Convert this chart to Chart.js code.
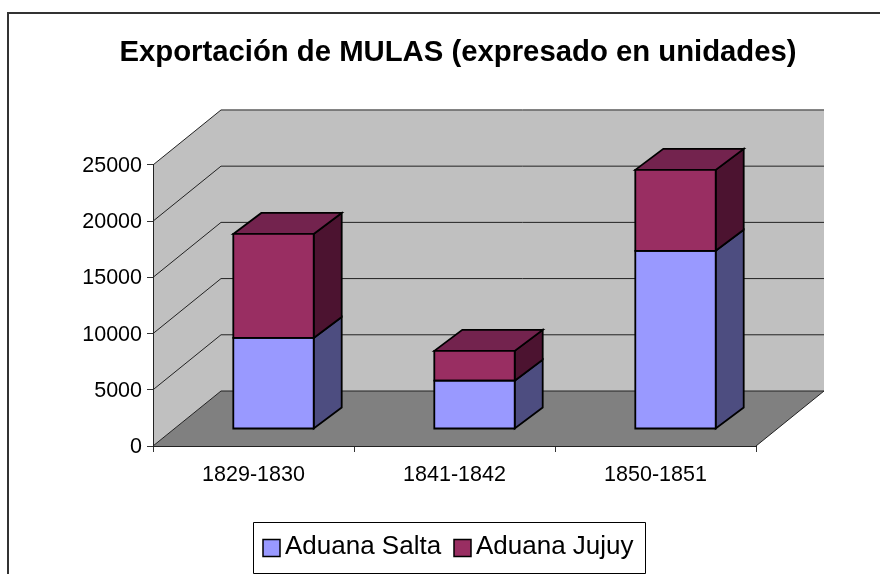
<!DOCTYPE html>
<html><head><meta charset="utf-8">
<style>html,body{margin:0;padding:0;background:#fff;overflow:hidden}canvas{display:block}</style>
<script src="https://cdn.jsdelivr.net/npm/chart.js@4"></script>
</head><body>
<div style="width:880px;height:574px"><canvas id="c" width="880" height="574"></canvas></div>
<script>
const categories = ['1829-1830', '1841-1842', '1850-1851'];
const seriesNames = ['Aduana Salta', 'Aduana Jujuy'];
const salta = [8100, 4300, 15850];
const jujuy = [9250, 2650, 7200];
const frontColors = ['#9999ff', '#992e62'];
const sideColors = ['#4d4d80', '#4c1330'];
const topColors = ['#7373bf', '#73234e'];
const yTicks = [0, 5000, 10000, 15000, 20000, 25000];
const FONT = '"Liberation Sans", Arial, sans-serif';
const WALL = {dx: 68, dy: -55};
const BAR_SHIFT = {dx: 20, dy: -17};
const BAR_DEPTH = {dx: 28, dy: -21};
const EDGE = 1.8;

function poly(ctx, pts, fill, stroke, lw) {
  ctx.beginPath();
  pts.forEach((p, i) => i ? ctx.lineTo(p[0], p[1]) : ctx.moveTo(p[0], p[1]));
  ctx.closePath();
  if (fill) { ctx.fillStyle = fill; ctx.fill(); }
  if (stroke) { ctx.strokeStyle = stroke; ctx.lineWidth = lw; ctx.lineJoin = 'miter'; ctx.stroke(); }
}

const scene = {
  id: 'scene',
  afterLayout(chart) {
    const t = chart.titleBlock;
    t.left = 36; t.right = 880;
    const yScale = chart.scales.y;
    if (!yScale._nudged) {
      const orig = yScale.drawLabels;
      yScale.drawLabels = function (area) {
        this.ctx.save();
        this.ctx.translate(0, 1);
        orig.call(this, area);
        this.ctx.restore();
      };
      yScale._nudged = true;
    }
  },
  beforeDraw(chart) {
    const {ctx, chartArea: a, scales: {y}} = chart;
    ctx.save();
    ctx.fillStyle = '#fff';
    ctx.fillRect(0, 0, 880, 574);
    ctx.beginPath();
    ctx.moveTo(8, 574); ctx.lineTo(8, 13); ctx.lineTo(880, 13);
    ctx.strokeStyle = '#333'; ctx.lineWidth = 2; ctx.stroke();
    const L = a.left, R = a.right, B = a.bottom, T = a.top;
    const wx = WALL.dx, wy = WALL.dy;
    poly(ctx, [[L, T], [L + wx, T + wy], [R + wx, T + wy], [R + wx, B + wy], [L + wx, B + wy], [L, B]], '#c0c0c0');
    poly(ctx, [[L, B], [L + wx, B + wy], [R + wx, B + wy], [R, B]], '#808080');
    ctx.strokeStyle = '#222'; ctx.lineWidth = 1;
    yTicks.forEach(v => {
      const p = y.getPixelForValue(v);
      ctx.beginPath();
      ctx.moveTo(L, p); ctx.lineTo(L + wx, p + wy); ctx.lineTo(R + wx, p + wy);
      ctx.stroke();
    });
    ctx.beginPath();
    ctx.moveTo(R, B); ctx.lineTo(R + wx, B + wy);
    ctx.stroke();
    ctx.restore();
  },
  beforeDatasetsDraw(chart) {
    const {ctx} = chart;
    ctx.save();
    ctx.translate(BAR_SHIFT.dx, BAR_SHIFT.dy);
    const dx = BAR_DEPTH.dx, dy = BAR_DEPTH.dy;
    chart.data.datasets.forEach((ds, i) => {
      chart.getDatasetMeta(i).data.forEach(bar => {
        const r = bar.x + bar.width / 2, l = bar.x - bar.width / 2, t = bar.y, b = bar.base;
        poly(ctx, [[r, t], [r + dx, t + dy], [r + dx, b + dy], [r, b]], sideColors[i], '#000', EDGE);
        if (i === chart.data.datasets.length - 1) {
          poly(ctx, [[l, t], [l + dx, t + dy], [r + dx, t + dy], [r, t]], topColors[i], '#000', EDGE);
        }
      });
    });
  },
  afterDatasetsDraw(chart) {
    const {ctx} = chart;
    chart.data.datasets.forEach((ds, i) => {
      chart.getDatasetMeta(i).data.forEach(bar => {
        const r = bar.x + bar.width / 2, l = bar.x - bar.width / 2;
        poly(ctx, [[l, bar.y], [r, bar.y], [r, bar.base], [l, bar.base]], null, '#000', EDGE);
      });
    });
    ctx.restore();
  },
  afterDraw(chart) {
    const {ctx} = chart;
    ctx.save();
    ctx.fillStyle = '#fff';
    ctx.strokeStyle = '#000';
    ctx.lineWidth = 1;
    ctx.beginPath();
    ctx.rect(253.5, 522.5, 392, 51);
    ctx.fill(); ctx.stroke();
    const boxes = [262.5, 453.5];
    ctx.font = '26px ' + FONT;
    ctx.textBaseline = 'alphabetic';
    seriesNames.forEach((name, i) => {
      ctx.fillStyle = frontColors[i];
      ctx.fillRect(boxes[i] + .5, 539.5, 17, 17);
      ctx.strokeStyle = '#000'; ctx.lineWidth = 1.5;
      ctx.strokeRect(boxes[i] + .5, 539.5, 17, 17);
      ctx.fillStyle = '#000';
      ctx.fillText(name, boxes[i] + 22.5, 554);
    });
    ctx.restore();
  }
};

new Chart(document.getElementById('c'), {
  type: 'bar',
  data: {
    labels: categories,
    datasets: [
      {label: seriesNames[0], data: salta, backgroundColor: frontColors[0], borderWidth: 0, inflateAmount: 0, clip: false},
      {label: seriesNames[1], data: jujuy, backgroundColor: frontColors[1], borderWidth: 0, inflateAmount: 0, clip: false}
    ]
  },
  options: {
    responsive: false,
    animation: false,
    devicePixelRatio: 1,
    layout: {padding: {left: 10, right: 124, top: 35, bottom: 88}},
    barPercentage: 0.5,
    categoryPercentage: 0.8,
    plugins: {
      legend: {display: false},
      tooltip: {enabled: false},
      title: {
        display: true,
        text: 'Exportación de MULAS (expresado en unidades)',
        color: '#000',
        font: {family: FONT, size: 29.3, weight: 'bold', lineHeight: 1.2},
        padding: {top: 0, bottom: 94.8}
      }
    },
    scales: {
      x: {
        stacked: true,
        grid: {drawOnChartArea: false, tickLength: 6, color: '#333', offset: true},
        border: {color: '#222'},
        ticks: {color: '#000', font: {family: FONT, size: 21.5}, padding: 10, maxRotation: 0},
        afterFit(s) { s.height = 40; }
      },
      y: {
        stacked: true,
        min: 0, max: 25000,
        grid: {drawOnChartArea: false, tickLength: 6, color: '#333'},
        border: {color: '#222'},
        ticks: {color: '#000', stepSize: 5000, font: {family: FONT, size: 21.5}, padding: 5, callback: v => String(v)},
        afterFit(s) { s.width = 143; }
      }
    }
  },
  plugins: [scene]
});
</script>
</body></html>
